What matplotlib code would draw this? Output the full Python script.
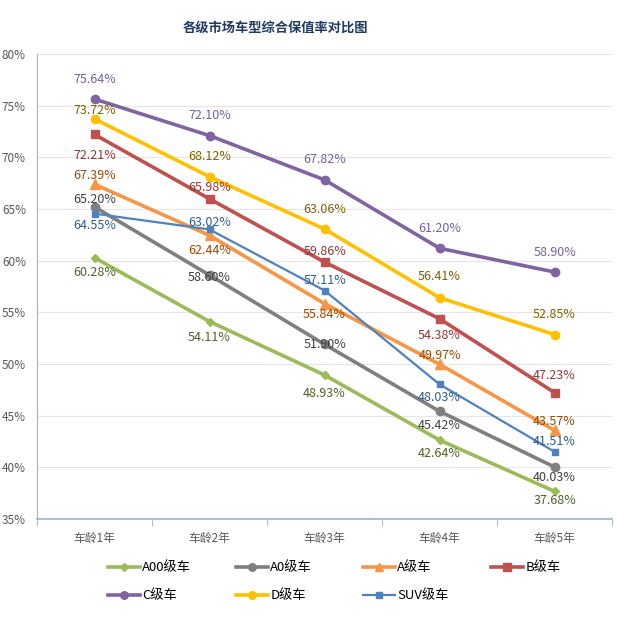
import matplotlib.pyplot as plt
import numpy as np

plt.rcParams['font.family'] = ['Noto Sans CJK SC', 'DejaVu Sans']

# 数据
ages = ['车龄1年', '车龄2年', '车龄3年', '车龄4年', '车龄5年']
names = ['A00级车', 'A0级车', 'A级车', 'B级车', 'C级车', 'D级车', 'SUV级车']
a00 = [60.28, 54.11, 48.93, 42.64, 37.68]
a0 = [65.20, 58.60, 51.90, 45.42, 40.03]
a_cls = [67.39, 62.44, 55.84, 49.97, 43.57]
b_cls = [72.21, 65.98, 59.86, 54.38, 47.23]
c_cls = [75.64, 72.10, 67.82, 61.20, 58.90]
d_cls = [73.72, 68.12, 63.06, 56.41, 52.85]
suv = [64.55, 63.02, 57.11, 48.03, 41.51]

series = [a00, a0, a_cls, b_cls, c_cls, d_cls, suv]
colors = ['#9BBB59', '#7F7F7F', '#F79646', '#C0504D', '#8064A2', '#FFC000', '#4F81BD']
label_colors = ['#4F6228', '#404040', '#984807', '#963634', '#7560A0', '#7F6000', '#2E5C8F']
markers = ['D', 'o', '^', 's', 'o', 'o', 's']
msizes = [4.5, 6, 6.5, 6, 6, 6, 4.5]
widths = [2.6, 2.6, 2.6, 2.6, 2.6, 2.6, 1.6]
# 数据标签相对数据点的竖直偏移 (像素, 负值在上方)
label_dy = [
    [15, 16, 18, 13, 9],
    [-7, 2, 0, 14, 10],
    [-9, 15, 11, -9, -9],
    [21, -11, -11, 17, -17],
    [-20, -20, -20, -20, -20],
    [-8, -20, -20, -21, -20],
    [12, -7, -10, 13, -10],
]

fig = plt.figure(figsize=(6.17, 6.25), dpi=100)
ax = fig.add_axes([0.060, 0.1696, 0.932, 0.744])

x = np.arange(len(ages))
handles = []
for vals, col, lc, mk, ms, lw, offs, nm in zip(series, colors, label_colors, markers,
                                                msizes, widths, label_dy, names):
    h, = ax.plot(x, vals, color=col, lw=lw, marker=mk, markersize=ms, label=nm, zorder=3)
    handles.append(h)
    for xi, v, d in zip(x, vals, offs):
        ax.annotate('%.2f%%' % v, (xi, v), xytext=(0, -d * 0.72), textcoords='offset points',
                    ha='center', va='center', fontsize=9, color=lc, zorder=4)

ax.set_xlim(-0.5, 4.5)
ax.set_ylim(35, 80)
ax.set_yticks(np.arange(35, 81, 5))
ax.set_yticklabels(['%d%%' % t for t in range(35, 81, 5)])
ax.set_xticks(x)
ax.set_xticklabels(ages)
ax.set_xticks(np.arange(-0.5, 5, 1), minor=True)
ax.tick_params(axis='x', which='major', length=0, pad=9, labelsize=8.5, labelcolor='#595959')
ax.tick_params(axis='x', which='minor', length=5, color='#9DB3D3')
ax.tick_params(axis='y', length=0, pad=8, labelsize=8.5, labelcolor='#595959')
ax.grid(axis='y', color='#E6E6E6', lw=0.8)
ax.set_axisbelow(True)
for s in ['top', 'right']:
    ax.spines[s].set_visible(False)
ax.spines['left'].set_color('#9DB3D3')
ax.spines['bottom'].set_color('#9DB3D3')
ax.spines['bottom'].set_linewidth(1.2)

fig.text(0.447, 0.956, '各级市场车型综合保值率对比图', ha='center', va='center',
         fontsize=9.5, fontweight='bold', color='#1F3B63')

# 图例: 两行四列, 按行排列
col_x = [108, 236, 363, 491]
for i, cx in enumerate(col_x):
    hs = handles[i::4]
    fig.legend(handles=hs, labels=[h.get_label() for h in hs], loc='upper left',
               bbox_to_anchor=(cx / 617, 0.102), frameon=False, fontsize=9.5,
               handlelength=2.4, handletextpad=0.2, labelspacing=1.15,
               borderpad=0, borderaxespad=0, markerscale=0.9)

fig.savefig('out.png', dpi=100)
